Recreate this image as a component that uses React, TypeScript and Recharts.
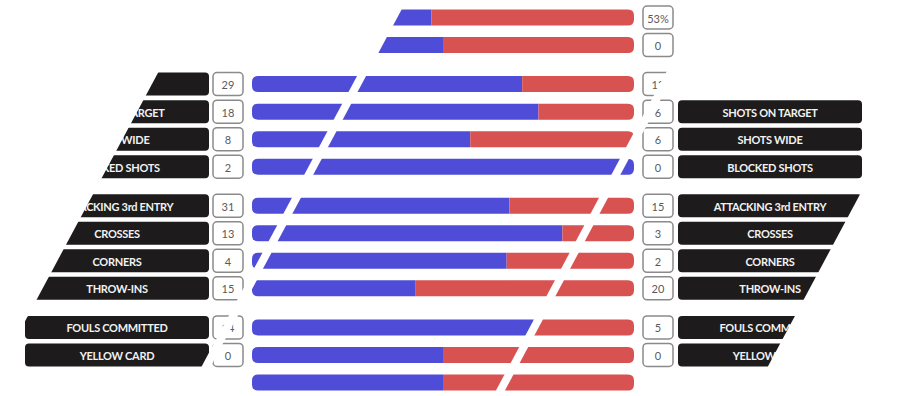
import React from 'react'
import { BarChart, Bar, XAxis, YAxis, LabelList } from 'recharts'

const statLabels = [
  'POSSESSION', 'GOALS',
  'SHOTS', 'SHOTS ON TARGET', 'SHOTS WIDE', 'BLOCKED SHOTS',
  'ATTACKING 3rd ENTRY', 'CROSSES', 'CORNERS', 'THROW-INS',
  'FOULS COMMITTED', 'YELLOW CARD', 'RED CARD',
]
const homeValues = [47, 0, 29, 18, 8, 2, 31, 13, 4, 15, 14, 0, 0]
const awayValues = [53, 0, 12, 6, 6, 0, 15, 3, 2, 20, 5, 0, 0]
const statUnits = ['%', '', '', '', '', '', '', '', '', '', '', '', '']
const statGroups = [0, 0, 1, 1, 1, 1, 2, 2, 2, 2, 3, 3, 3]
// last row has not got its boxes yet in this frame of the wipe
const boxesShown = [true, true, true, true, true, true, true, true, true, true, true, true, false]

const BLUE = '#4f4dd8'
const RED = '#d95252'
const PLATE = '#1d1b1b'
const GROUP_GAP = 0.42

const rows = statLabels.map((label, i) => {
  const h = homeValues[i]
  const a = awayValues[i]
  const total = h + a
  return {
    label,
    pos: i + statGroups[i] * GROUP_GAP,
    home: total ? h / total : 0.5,
    away: total ? a / total : 0.5,
    homeText: `${h}${statUnits[i]}`,
    awayText: `${a}${statUnits[i]}`,
    shown: boxesShown[i],
  }
})

const barPath = (x: number, y: number, w: number, h: number, rl: number, rr: number) => {
  if (w <= 0) return ''
  const l = Math.min(rl, w / 2, h / 2)
  const r = Math.min(rr, w / 2, h / 2)
  return `M${x + l},${y} H${x + w - r} Q${x + w},${y} ${x + w},${y + r} V${y + h - r} Q${x + w},${y + h} ${x + w - r},${y + h} H${x + l} Q${x},${y + h} ${x},${y + h - l} V${y + l} Q${x},${y} ${x + l},${y} Z`
}

const HomeShape = (props: any) => {
  const { x, y, width, height, payload } = props
  return <path d={barPath(x, y, width, height, 6, payload.away === 0 ? 6 : 0)} fill={BLUE} />
}
const AwayShape = (props: any) => {
  const { x, y, width, height, payload } = props
  return <path d={barPath(x, y, width, height, payload.home === 0 ? 6 : 0, 6)} fill={RED} />
}

const NumberBox = ({ x, cy, text }: { x: number; cy: number; text: string }) => (
  <g>
    <rect x={x} y={cy - 11.5} width={30} height={23} rx={4} fill="#fff" stroke="#8a8a8a" strokeWidth={1.5} />
    <text x={x + 15} y={cy + 0.5} textAnchor="middle" dominantBaseline="central" fontSize={11} fill="#5a5a5a" fontFamily="Lato, sans-serif">
      {text}
    </text>
  </g>
)

const NamePlate = ({ x, cy, text }: { x: number; cy: number; text: string }) => (
  <g>
    <rect x={x} y={cy - 11.5} width={184} height={23} rx={4} fill={PLATE} />
    <text x={x + 92} y={cy + 0.5} textAnchor="middle" dominantBaseline="central" fontSize={11} fontWeight={700} fill="#f2f2f2" fontFamily="Lato, sans-serif" letterSpacing={-0.3}>
      {text}
    </text>
  </g>
)

const renderHomeSide = (props: any) => {
  const vb = props.viewBox ?? props
  const row = rows[props.index]
  if (!row || !row.shown) return null
  const cy = vb.y + vb.height / 2
  return (
    <g>
      <NamePlate x={vb.x - 227} cy={cy} text={row.label} />
      <NumberBox x={vb.x - 39} cy={cy} text={row.homeText} />
    </g>
  )
}

const renderAwaySide = (props: any) => {
  const vb = props.viewBox ?? props
  const row = rows[props.index]
  if (!row || !row.shown) return null
  const end = vb.x + vb.width
  const cy = vb.y + vb.height / 2
  return (
    <g>
      <NumberBox x={end + 9} cy={cy} text={row.awayText} />
      <NamePlate x={end + 44} cy={cy} text={row.label} />
    </g>
  )
}

// diagonal wipe overlay
const SLOPE = 0.535
const cut = (x0: number, y0: number) => (y: number) => x0 - SLOPE * (y - y0)
const leftEdge = cut(152, 84)
const stripe1 = cut(357, 84.5)
const stripe2 = cut(620, 167)
const rightEdge = cut(857, 200)
const HALF = 4.5
const TOP_PANEL = 62
const stripe2Meets = 167 + (620 - 676) / SLOPE

const wipe: number[][][] = [
  [[-20, -1], [stripe1(-1), -1], [stripe1(TOP_PANEL), TOP_PANEL], [-20, TOP_PANEL]],
  [[-20, TOP_PANEL], [leftEdge(TOP_PANEL), TOP_PANEL], [leftEdge(400), 400], [-20, 400]],
  [[stripe1(-1) - HALF, -1], [stripe1(-1) + HALF, -1], [stripe1(400) + HALF, 400], [stripe1(400) - HALF, 400]],
  [[stripe2(-1) - HALF, -1], [stripe2(-1) + HALF, -1], [stripe2(400) + HALF, 400], [stripe2(400) - HALF, 400]],
  [[676, -1], [930, -1], [930, 98], [stripe2(98), 98], [676, stripe2Meets]],
  [[rightEdge(98), 98], [930, 98], [930, 400], [rightEdge(400), 400]],
]

export default function App() {
  return (
    <div style={{ position: 'fixed', left: 0, top: 0, width: 909, height: 396, background: '#fff' }}>
      <BarChart
        width={909}
        height={396}
        data={rows}
        layout="vertical"
        margin={{ top: 3.5, right: 275, bottom: 0, left: 252 }}
      >
        <XAxis type="number" domain={[0, 1]} hide />
        <YAxis type="number" dataKey="pos" domain={[-0.5, 13.76]} ticks={rows.map((r) => r.pos)} hide />
        <Bar dataKey="home" stackId="s" barSize={16} shape={HomeShape} isAnimationActive={false}>
          <LabelList dataKey="label" content={renderHomeSide} />
        </Bar>
        <Bar dataKey="away" stackId="s" barSize={16} shape={AwayShape} isAnimationActive={false}>
          <LabelList dataKey="label" content={renderAwaySide} />
        </Bar>
      </BarChart>
      <svg width={909} height={396} style={{ position: 'absolute', left: 0, top: 0, pointerEvents: 'none' }}>
        {wipe.map((pts, i) => (
          <polygon key={i} points={pts.map((p) => p.join(',')).join(' ')} fill="#fff" />
        ))}
      </svg>
    </div>
  )
}
